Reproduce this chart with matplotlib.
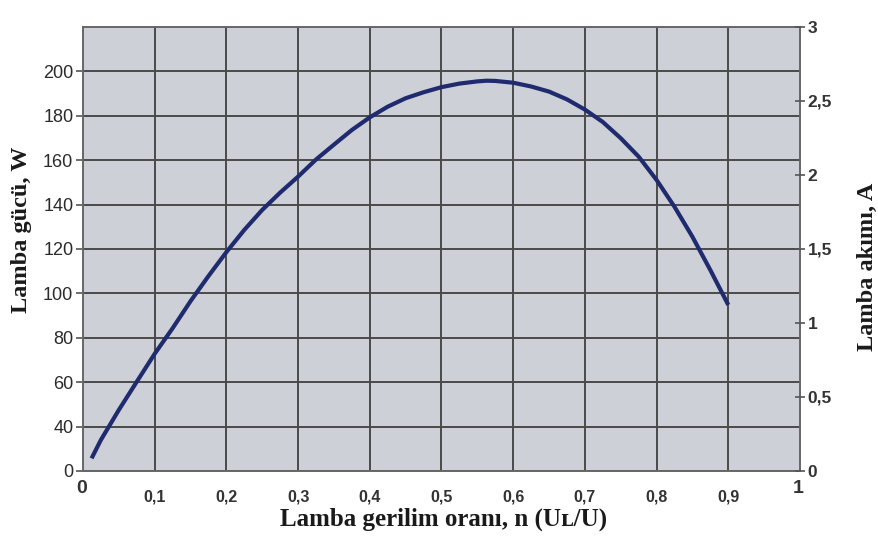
import matplotlib
matplotlib.use('Agg')
import matplotlib.pyplot as plt

# Lamba gerilim oranı ve güç değerleri (eğri üzerinden okunan noktalar)
n_ratio = [0.012, 0.025, 0.05, 0.075, 0.1, 0.125, 0.15, 0.175, 0.2, 0.225,
           0.25, 0.275, 0.3, 0.325, 0.35, 0.375, 0.4, 0.425, 0.45, 0.475,
           0.5, 0.525, 0.55, 0.563, 0.575, 0.6, 0.625, 0.65, 0.675, 0.7,
           0.725, 0.75, 0.775, 0.8, 0.825, 0.85, 0.875, 0.9]
power_w = [25.7, 34.0, 47.5, 60.2, 72.8, 84.3, 96.5, 107.8, 118.6, 128.6,
           137.6, 145.4, 152.6, 160.3, 167.0, 173.6, 179.3, 184.1, 187.9, 190.6,
           192.9, 194.5, 195.5, 195.8, 195.7, 194.9, 193.2, 190.9, 187.4, 182.8,
           177.2, 169.9, 161.6, 151.1, 139.0, 125.5, 110.5, 94.8]

# Eksen etiketleri
x_ticks = [0.1, 0.2, 0.3, 0.4, 0.5, 0.6, 0.7, 0.8, 0.9]
x_labels = ['0,1', '0,2', '0,3', '0,4', '0,5', '0,6', '0,7', '0,8', '0,9']
left_ticks = [20, 40, 60, 80, 100, 120, 140, 160, 180, 200]
left_labels = ['0', '40', '60', '80', '100', '120', '140', '160', '180', '200']
right_ticks = [0, 0.5, 1, 1.5, 2, 2.5, 3]
right_labels = ['0', '0,5', '1', '1,5', '2', '2,5', '3']

GRID = '#4a4a4a'
BG = '#cdd0d6'
LINE = '#1f2b6e'
SANS = ['Liberation Sans', 'DejaVu Sans']
SERIF = ['Liberation Serif', 'DejaVu Serif']

fig = plt.figure(figsize=(8.79, 5.43), dpi=100)
ax = fig.add_axes([0.0944, 0.1326, 0.8157, 0.8177])
ax.set_facecolor(BG)
ax.set_xlim(0, 1)
ax.set_ylim(20, 220)

ax.set_xticks(x_ticks)
ax.set_xticklabels(x_labels, family=SANS, fontsize=11.5, fontweight='bold', color='#333333')
ax.tick_params(axis='x', length=0, pad=13)
ax.set_yticks(left_ticks)
ax.set_yticklabels(left_labels, family=SANS, fontsize=13, color='#2a2a2a')
ax.tick_params(axis='y', length=5, width=1.2, color='#555555', pad=2)

ax.grid(True, color=GRID, lw=1.4)
ax.set_axisbelow(True)
for sp in ax.spines.values():
    sp.set_color('#666666')
    sp.set_linewidth(1.4)

ax.plot(n_ratio, power_w, color=LINE, lw=3, solid_capstyle='butt',
        solid_joinstyle='round', zorder=3)

# Sağ eksen: lamba akımı
ax2 = ax.twinx()
ax2.set_ylim(0, 3)
ax2.set_yticks(right_ticks)
ax2.set_yticklabels(right_labels, family=SANS, fontsize=12.5, fontweight='bold', color='#333333')
ax2.tick_params(axis='y', direction='inout', length=7, width=1.2, color='#555555', pad=2)
for sp in ax2.spines.values():
    sp.set_visible(False)

# x ekseninin uç etiketleri
ax.text(-0.002, -0.04, '0', transform=ax.transAxes, ha='center', va='center',
        family=SANS, fontsize=14, fontweight='bold', color='#333333')
ax.text(0.997, -0.04, '1', transform=ax.transAxes, ha='center', va='center',
        family=SANS, fontsize=14, fontweight='bold', color='#333333')

fig.text(0.025, 0.576, 'Lamba gücü, W', rotation=90, ha='center', va='center',
         family=SERIF, fontsize=17.5, fontweight='bold', color='#1a1a1a')
fig.text(0.987, 0.509, 'Lamba akımı, A', rotation=90, ha='center', va='center',
         family=SERIF, fontsize=17.5, fontweight='bold', color='#1a1a1a')
fig.text(0.505, 0.043, 'Lamba gerilim oranı, n (Uʟ/U)', ha='center', va='center',
         family=SERIF, fontsize=18, fontweight='bold', color='#1a1a1a')

fig.savefig('out.png', dpi=100)
